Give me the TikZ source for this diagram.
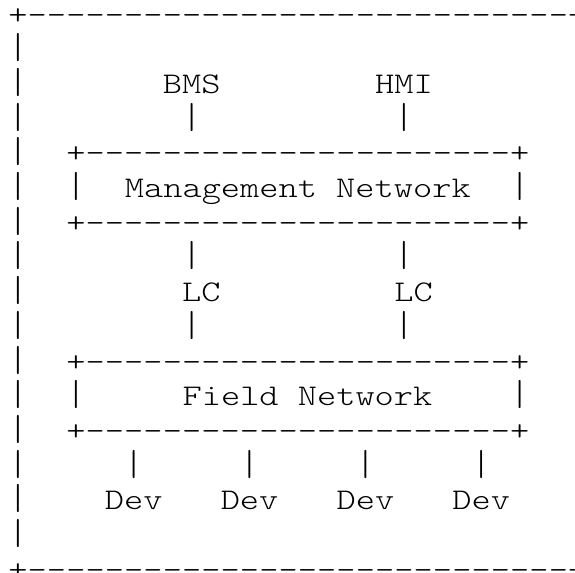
\documentclass[tikz,border=0pt]{standalone}
\usepackage{tikz}
\newcommand\asciifont{\ttfamily\fontseries{l}\fontsize{30}{30}\selectfont}
\tikzset{
  every picture/.style={
    x=19.3pt, y=-34.7pt
  },
  chr/.style={
    font=\asciifont, anchor=base, inner sep=0pt,
    xscale=1.22, transform shape
  },
  bar/.style={chr, yscale=1.2}
}

\begin{document}
\begin{tikzpicture}
  \useasboundingbox (-0.933,-0.6945) rectangle (28.86,15.818);
  \clip (-0.933,-0.6945) rectangle (28.86,15.818);
  % outer frame
  \foreach \r in {0,16} {
    \node [chr] at (0,\r) {+};
    \node [chr] at (29,\r) {+};
    \foreach \c in {1,...,28} \node [chr] at (\c,\r) {-};
  }
  \foreach \r in {1,...,15} {
    \node [bar] at (0,\r) {|};
    \node [bar] at (29,\r) {|};
  }
  % network boxes
  \foreach \t/\b in {4/6,10/12} {
    \foreach \r in {\t,\b} {
      \node [chr] at (3,\r) {+};
      \node [chr] at (26,\r) {+};
      \foreach \c in {4,...,25} \node [chr] at (\c,\r) {-};
    }
    \node [bar] at (3,\t+1) {|};
    \node [bar] at (26,\t+1) {|};
  }
  \node [chr] (mgmt) at (14.5,5) {Management Network};
  \node [chr] (field) at (15,11) {Field Network};
  % top hosts
  \node [chr] (bms) at (9,2) {BMS};
  \node [chr] (hmi) at (20,2) {HMI};
  % controllers
  \node [chr] (lc1) at (9.5,8) {LC};
  \node [chr] (lc2) at (20.5,8) {LC};
  \foreach \c in {9,20} {
    \node [bar] at (\c,3) {|};
    \node [bar] at (\c,7) {|};
    \node [bar] at (\c,9) {|};
  }
  % devices
  \foreach \i/\c in {1/6,2/12,3/18,4/24} {
    \node [bar] at (\c,13) {|};
    \node [chr] (dev\i) at (\c,14) {Dev};
  }
\end{tikzpicture}
\end{document}
